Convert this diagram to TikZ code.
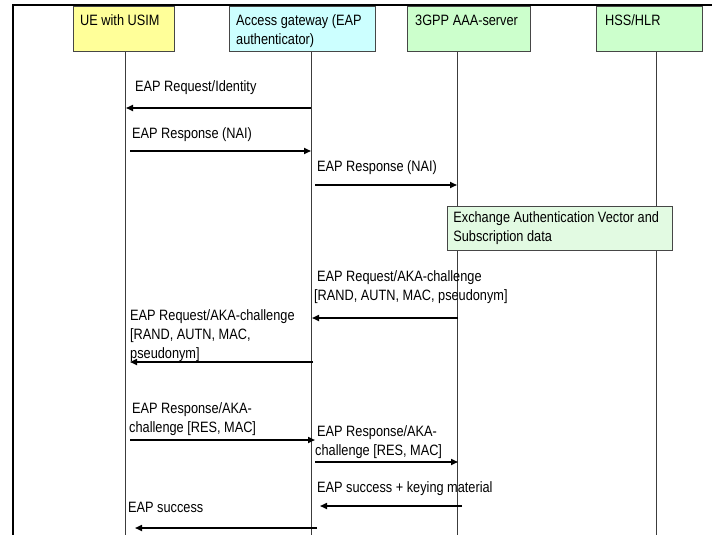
\documentclass[tikz,border=0pt]{standalone}
\usepackage{fontspec}
\setmainfont{Liberation Sans}[FakeStretch=0.85]
\usetikzlibrary{arrows.meta, positioning}

\definecolor{uefill}{RGB}{255,255,153}
\definecolor{agfill}{RGB}{204,255,255}
\definecolor{srvfill}{RGB}{204,255,204}
\definecolor{exfill}{RGB}{226,250,226}
\definecolor{boxline}{RGB}{70,70,70}
\definecolor{lifegray}{RGB}{60,60,60}

\tikzset{
  actor/.style={draw=boxline, line width=0.8pt, anchor=north west, inner sep=0pt},
  txt/.style={font=\fontsize{15}{19}\selectfont, inner sep=0pt, anchor=north west, align=left},
  msg/.style={line width=1.6pt, -{Triangle[length=7pt, width=6pt]}},
  lifeline/.style={draw=lifegray, line width=0.8pt},
  exbox/.style={actor, fill=exfill, txt, anchor=north west, align=flush left,
    text width=213pt, inner xsep=6pt, minimum height=44pt}
}

\begin{document}
\begin{tikzpicture}[x=1pt, y=-1pt]
    \useasboundingbox (0,0) rectangle (712,535);
    % Frame
    \coordinate (frame tr) at (712,5);
    \coordinate (frame tl) at (13,5);
    \coordinate (frame bl) at (13,535);
    \draw[line width=2pt] (frame tr) -- (frame tl) -- (frame bl);
    % Lifelines
    \foreach \a/\x in {ue/125, ag/311, aaa/457, hss/656} {
      \coordinate (\a top) at (\x,51);
      \coordinate (\a end) at (\x,535);
      \draw[lifeline] (\a top) -- (\a end);
    }
    % Actors
    \node[actor, fill=uefill, minimum width=101pt, minimum height=45pt] (ue) at (73,6) {};
    \node[actor, fill=agfill, minimum width=146pt, minimum height=45pt] (ag) at (229,6) {};
    \node[actor, fill=srvfill, minimum width=123pt, minimum height=45pt] (aaa) at (407,6) {};
    \node[actor, fill=srvfill, minimum width=106pt, minimum height=45pt] (hss) at (596,6) {};
    \node[txt, below right=8.4pt and 7pt of ue.north west] (ue label) {UE with USIM};
    \node[txt, below right=8.4pt and 7pt of ag.north west] (ag label) {Access gateway (EAP\\authenticator)};
    \node[txt, below right=8.4pt and 8pt of aaa.north west] (aaa label) {3GPP AAA-server};
    \node[txt, below right=8.4pt and 9pt of hss.north west] (hss label) {HSS/HLR};
    % Exchange with HSS
    \node[exbox] (exch) at (447,206) {Exchange Authentication Vector and\\Subscription data};
    % Messages
    \foreach \n/\xa/\xb/\y in {1/311/126/108, 2/130/311/151, 3/315/457/185,
        4/458/312/318, 5/313/130/362, 6/130/315/440, 7/315/458/462,
        8/462/320/506, 9/317/135/528} {
      \coordinate (m\n a) at (\xa,\y);
      \coordinate (m\n b) at (\xb,\y);
      \draw[msg] (m\n a) -- (m\n b);
    }
    % Labels
    \node[txt] (t1) at (135,80.4) {EAP Request/Identity};
    \node[txt] (t2) at (132,127.4) {EAP Response (NAI)};
    \node[txt] (t3) at (317,160.4) {EAP Response (NAI)};
    \node[txt] (t4) at (314,270.4) {\hspace*{3pt}EAP Request/AKA-challenge\\{[RAND, AUTN, MAC, pseudonym]}};
    \node[txt] (t5) at (130,309.4) {EAP Request/AKA-challenge\\{[RAND, AUTN, MAC,}\\pseudonym]};
    \node[txt] (t6) at (129,402.4) {\hspace*{3pt}EAP Response/AKA-\\challenge [RES, MAC]};
    \node[txt] (t7) at (315,425.4) {\hspace*{2pt}EAP Response/AKA-\\challenge [RES, MAC]};
    \node[txt] (t8) at (317,481.4) {EAP success + keying material};
    \node[txt] (t9) at (128,502.4) {EAP success};
\end{tikzpicture}
\end{document}
